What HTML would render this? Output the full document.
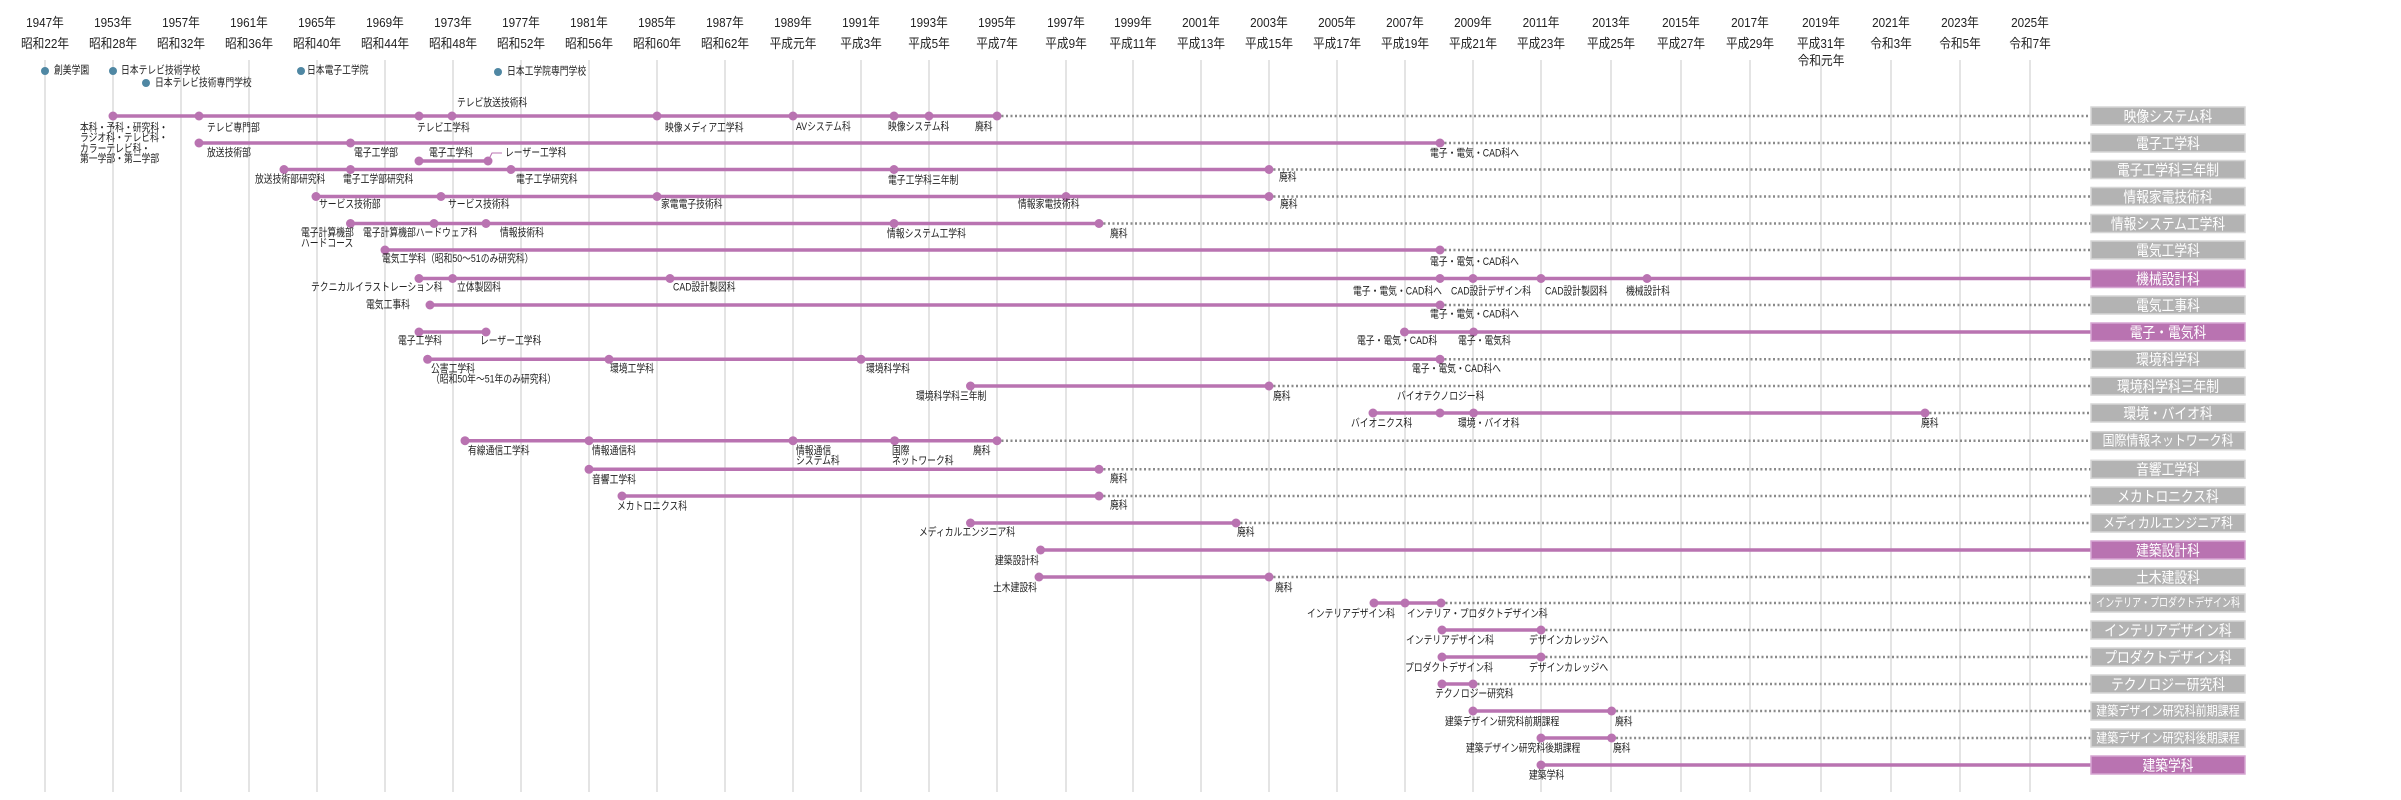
<!DOCTYPE html>
<html><head><meta charset="utf-8">
<style>
html,body{margin:0;padding:0;background:#fff;}
svg{display:block;font-family:"Liberation Sans","Noto Sans CJK JP",sans-serif;}
.g{stroke:#dcdcdc;stroke-width:1.5}
.l{stroke:#b973b1;stroke-width:3.5}
.d{stroke:#8a8a8a;stroke-width:2.5;stroke-dasharray:2 2.5}
circle.p{fill:#b973b1}
circle.s{fill:#4f87a3}
text.t{font-size:11px;fill:#222;dominant-baseline:central;transform-box:fill-box;transform-origin:0 50%;transform:scaleX(.8)}
text.y{font-size:13px;fill:#222;text-anchor:middle;dominant-baseline:central;transform-box:fill-box;transform-origin:50% 50%;transform:scaleX(.9)}
text.b{font-size:15px;fill:#fff;text-anchor:middle;dominant-baseline:central;transform-box:fill-box;transform-origin:50% 50%;transform:scaleX(.85)}
rect.gb{fill:#b3b3b3;stroke:#d6d6d6;stroke-width:1.5}
rect.pb{fill:#b973b1;stroke:#d6a6d2;stroke-width:1.5}
</style></head><body>
<svg width="2401" height="800" viewBox="0 0 2401 800">
<g class="g">
<line x1="45" y1="60" x2="45" y2="792"/><line x1="113" y1="60" x2="113" y2="792"/><line x1="181" y1="60" x2="181" y2="792"/><line x1="249" y1="60" x2="249" y2="792"/><line x1="317" y1="60" x2="317" y2="792"/><line x1="385" y1="60" x2="385" y2="792"/><line x1="453" y1="60" x2="453" y2="792"/><line x1="521" y1="60" x2="521" y2="792"/><line x1="589" y1="60" x2="589" y2="792"/><line x1="657" y1="60" x2="657" y2="792"/><line x1="725" y1="60" x2="725" y2="792"/><line x1="793" y1="60" x2="793" y2="792"/><line x1="861" y1="60" x2="861" y2="792"/><line x1="929" y1="60" x2="929" y2="792"/><line x1="997" y1="60" x2="997" y2="792"/><line x1="1066" y1="60" x2="1066" y2="792"/><line x1="1133" y1="60" x2="1133" y2="792"/><line x1="1201" y1="60" x2="1201" y2="792"/><line x1="1269" y1="60" x2="1269" y2="792"/><line x1="1337" y1="60" x2="1337" y2="792"/><line x1="1405" y1="60" x2="1405" y2="792"/><line x1="1473" y1="60" x2="1473" y2="792"/><line x1="1541" y1="60" x2="1541" y2="792"/><line x1="1611" y1="60" x2="1611" y2="792"/><line x1="1681" y1="60" x2="1681" y2="792"/><line x1="1750" y1="60" x2="1750" y2="792"/><line x1="1821" y1="60" x2="1821" y2="792"/><line x1="1891" y1="60" x2="1891" y2="792"/><line x1="1960" y1="60" x2="1960" y2="792"/><line x1="2030" y1="60" x2="2030" y2="792"/>
</g>
<g>
<text class="y" x="45" y="23">1947年</text><text class="y" x="45" y="44">昭和22年</text>
<text class="y" x="113" y="23">1953年</text><text class="y" x="113" y="44">昭和28年</text>
<text class="y" x="181" y="23">1957年</text><text class="y" x="181" y="44">昭和32年</text>
<text class="y" x="249" y="23">1961年</text><text class="y" x="249" y="44">昭和36年</text>
<text class="y" x="317" y="23">1965年</text><text class="y" x="317" y="44">昭和40年</text>
<text class="y" x="385" y="23">1969年</text><text class="y" x="385" y="44">昭和44年</text>
<text class="y" x="453" y="23">1973年</text><text class="y" x="453" y="44">昭和48年</text>
<text class="y" x="521" y="23">1977年</text><text class="y" x="521" y="44">昭和52年</text>
<text class="y" x="589" y="23">1981年</text><text class="y" x="589" y="44">昭和56年</text>
<text class="y" x="657" y="23">1985年</text><text class="y" x="657" y="44">昭和60年</text>
<text class="y" x="725" y="23">1987年</text><text class="y" x="725" y="44">昭和62年</text>
<text class="y" x="793" y="23">1989年</text><text class="y" x="793" y="44">平成元年</text>
<text class="y" x="861" y="23">1991年</text><text class="y" x="861" y="44">平成3年</text>
<text class="y" x="929" y="23">1993年</text><text class="y" x="929" y="44">平成5年</text>
<text class="y" x="997" y="23">1995年</text><text class="y" x="997" y="44">平成7年</text>
<text class="y" x="1066" y="23">1997年</text><text class="y" x="1066" y="44">平成9年</text>
<text class="y" x="1133" y="23">1999年</text><text class="y" x="1133" y="44">平成11年</text>
<text class="y" x="1201" y="23">2001年</text><text class="y" x="1201" y="44">平成13年</text>
<text class="y" x="1269" y="23">2003年</text><text class="y" x="1269" y="44">平成15年</text>
<text class="y" x="1337" y="23">2005年</text><text class="y" x="1337" y="44">平成17年</text>
<text class="y" x="1405" y="23">2007年</text><text class="y" x="1405" y="44">平成19年</text>
<text class="y" x="1473" y="23">2009年</text><text class="y" x="1473" y="44">平成21年</text>
<text class="y" x="1541" y="23">2011年</text><text class="y" x="1541" y="44">平成23年</text>
<text class="y" x="1611" y="23">2013年</text><text class="y" x="1611" y="44">平成25年</text>
<text class="y" x="1681" y="23">2015年</text><text class="y" x="1681" y="44">平成27年</text>
<text class="y" x="1750" y="23">2017年</text><text class="y" x="1750" y="44">平成29年</text>
<text class="y" x="1821" y="23">2019年</text><text class="y" x="1821" y="44">平成31年</text><text class="y" x="1821" y="61">令和元年</text>
<text class="y" x="1891" y="23">2021年</text><text class="y" x="1891" y="44">令和3年</text>
<text class="y" x="1960" y="23">2023年</text><text class="y" x="1960" y="44">令和5年</text>
<text class="y" x="2030" y="23">2025年</text><text class="y" x="2030" y="44">令和7年</text>
</g>
<circle class="s" cx="45" cy="71" r="4"/><text class="t" x="54" y="71">創美学園</text>
<circle class="s" cx="113" cy="71" r="4"/><text class="t" x="121" y="71">日本テレビ技術学校</text>
<circle class="s" cx="146" cy="83" r="4"/><text class="t" x="155" y="83">日本テレビ技術専門学校</text>
<circle class="s" cx="301" cy="71" r="4"/><text class="t" x="307" y="71">日本電子工学院</text>
<circle class="s" cx="498" cy="72" r="4"/><text class="t" x="507" y="72">日本工学院専門学校</text>

<g class="d">
<line x1="997" y1="116" x2="2091" y2="116"/>
<line x1="1440" y1="143" x2="2091" y2="143"/>
<line x1="1269" y1="169.5" x2="2091" y2="169.5"/>
<line x1="1269" y1="196.5" x2="2091" y2="196.5"/>
<line x1="1099" y1="223.5" x2="2091" y2="223.5"/>
<line x1="1440" y1="250" x2="2091" y2="250"/>
<line x1="1440" y1="305" x2="2091" y2="305"/>
<line x1="1440" y1="359.3" x2="2091" y2="359.3"/>
<line x1="1269" y1="386" x2="2091" y2="386"/>
<line x1="1925" y1="413" x2="2091" y2="413"/>
<line x1="997" y1="440.7" x2="2091" y2="440.7"/>
<line x1="1099" y1="469.3" x2="2091" y2="469.3"/>
<line x1="1099" y1="496" x2="2091" y2="496"/>
<line x1="1236" y1="523" x2="2091" y2="523"/>
<line x1="1269" y1="577" x2="2091" y2="577"/>
<line x1="1441" y1="603" x2="2091" y2="603"/>
<line x1="1541" y1="630" x2="2091" y2="630"/>
<line x1="1541" y1="657" x2="2091" y2="657"/>
<line x1="1473" y1="684" x2="2091" y2="684"/>
<line x1="1611.6" y1="711" x2="2091" y2="711"/>
<line x1="1611.6" y1="738" x2="2091" y2="738"/>
</g>
<g class="l">
<line x1="113" y1="116" x2="997" y2="116"/>
<line x1="199" y1="143" x2="1440" y2="143"/>
<line x1="419" y1="161" x2="488" y2="161"/>
<line x1="284" y1="169.5" x2="1269" y2="169.5"/>
<line x1="316" y1="196.5" x2="1269" y2="196.5"/>
<line x1="350.5" y1="223.5" x2="1099" y2="223.5"/>
<line x1="385" y1="250" x2="1440" y2="250"/>
<line x1="419" y1="278.5" x2="2091" y2="278.5"/>
<line x1="430" y1="305" x2="1440" y2="305"/>
<line x1="419" y1="332" x2="486" y2="332"/>
<line x1="1404.5" y1="332" x2="2091" y2="332"/>
<line x1="427.6" y1="359.3" x2="1440" y2="359.3"/>
<line x1="970.5" y1="386" x2="1269" y2="386"/>
<line x1="1373" y1="413" x2="1925" y2="413"/>
<line x1="465" y1="440.7" x2="997" y2="440.7"/>
<line x1="589" y1="469.3" x2="1099" y2="469.3"/>
<line x1="622" y1="496" x2="1099" y2="496"/>
<line x1="970.5" y1="523" x2="1236" y2="523"/>
<line x1="1040.6" y1="550" x2="2091" y2="550"/>
<line x1="1039" y1="577" x2="1269" y2="577"/>
<line x1="1374" y1="603" x2="1441" y2="603"/>
<line x1="1442" y1="630" x2="1541" y2="630"/>
<line x1="1442" y1="657" x2="1541" y2="657"/>
<line x1="1442" y1="684" x2="1473" y2="684"/>
<line x1="1473" y1="711" x2="1611.6" y2="711"/>
<line x1="1541" y1="738" x2="1611.6" y2="738"/>
<line x1="1541" y1="765" x2="2091" y2="765"/>
</g>
<polyline points="488,161 492,153 502,153" fill="none" stroke="#b973b1" stroke-width="1"/>
<g>
<circle class="p" cx="113" cy="116" r="4.5"/><circle class="p" cx="199" cy="116" r="4.5"/><circle class="p" cx="419" cy="116" r="4.5"/><circle class="p" cx="452" cy="116" r="4.5"/><circle class="p" cx="657" cy="116" r="4.5"/><circle class="p" cx="793" cy="116" r="4.5"/><circle class="p" cx="894" cy="116" r="4.5"/><circle class="p" cx="929" cy="116" r="4.5"/><circle class="p" cx="997" cy="116" r="4.5"/>
<circle class="p" cx="199" cy="143" r="4.5"/><circle class="p" cx="350.5" cy="143" r="4.5"/><circle class="p" cx="1440" cy="143" r="4.5"/>
<circle class="p" cx="419" cy="161" r="4.5"/><circle class="p" cx="488" cy="161" r="4.5"/>
<circle class="p" cx="284" cy="169.5" r="4.5"/><circle class="p" cx="350.5" cy="169.5" r="4.5"/><circle class="p" cx="511" cy="169.5" r="4.5"/><circle class="p" cx="894" cy="169.5" r="4.5"/><circle class="p" cx="1269" cy="169.5" r="4.5"/>
<circle class="p" cx="316" cy="196.5" r="4.5"/><circle class="p" cx="441" cy="196.5" r="4.5"/><circle class="p" cx="657" cy="196.5" r="4.5"/><circle class="p" cx="1066" cy="196.5" r="4.5"/><circle class="p" cx="1269" cy="196.5" r="4.5"/>
<circle class="p" cx="350.5" cy="223.5" r="4.5"/><circle class="p" cx="434" cy="223.5" r="4.5"/><circle class="p" cx="486" cy="223.5" r="4.5"/><circle class="p" cx="894" cy="223.5" r="4.5"/><circle class="p" cx="1099" cy="223.5" r="4.5"/>
<circle class="p" cx="385" cy="250" r="4.5"/><circle class="p" cx="1440" cy="250" r="4.5"/>
<circle class="p" cx="419" cy="278.5" r="4.5"/><circle class="p" cx="452.6" cy="278.5" r="4.5"/><circle class="p" cx="670" cy="278.5" r="4.5"/><circle class="p" cx="1440" cy="278.5" r="4.5"/><circle class="p" cx="1473" cy="278.5" r="4.5"/><circle class="p" cx="1541" cy="278.5" r="4.5"/><circle class="p" cx="1647" cy="278.5" r="4.5"/>
<circle class="p" cx="430" cy="305" r="4.5"/><circle class="p" cx="1440" cy="305" r="4.5"/>
<circle class="p" cx="419" cy="332" r="4.5"/><circle class="p" cx="486" cy="332" r="4.5"/><circle class="p" cx="1404.5" cy="332" r="4.5"/><circle class="p" cx="1473.6" cy="332" r="4.5"/>
<circle class="p" cx="427.6" cy="359.3" r="4.5"/><circle class="p" cx="609" cy="359.3" r="4.5"/><circle class="p" cx="861" cy="359.3" r="4.5"/><circle class="p" cx="1440" cy="359.3" r="4.5"/>
<circle class="p" cx="970.5" cy="386" r="4.5"/><circle class="p" cx="1269" cy="386" r="4.5"/>
<circle class="p" cx="1373" cy="413" r="4.5"/><circle class="p" cx="1440" cy="413" r="4.5"/><circle class="p" cx="1473.6" cy="413" r="4.5"/><circle class="p" cx="1925" cy="413" r="4.5"/>
<circle class="p" cx="465" cy="440.7" r="4.5"/><circle class="p" cx="589" cy="440.7" r="4.5"/><circle class="p" cx="793" cy="440.7" r="4.5"/><circle class="p" cx="894.6" cy="440.7" r="4.5"/><circle class="p" cx="997" cy="440.7" r="4.5"/>
<circle class="p" cx="589" cy="469.3" r="4.5"/><circle class="p" cx="1099" cy="469.3" r="4.5"/>
<circle class="p" cx="622" cy="496" r="4.5"/><circle class="p" cx="1099" cy="496" r="4.5"/>
<circle class="p" cx="970.5" cy="523" r="4.5"/><circle class="p" cx="1236" cy="523" r="4.5"/>
<circle class="p" cx="1040.6" cy="550" r="4.5"/>
<circle class="p" cx="1039" cy="577" r="4.5"/><circle class="p" cx="1269" cy="577" r="4.5"/>
<circle class="p" cx="1374" cy="603" r="4.5"/><circle class="p" cx="1405" cy="603" r="4.5"/><circle class="p" cx="1441" cy="603" r="4.5"/>
<circle class="p" cx="1442" cy="630" r="4.5"/><circle class="p" cx="1541" cy="630" r="4.5"/>
<circle class="p" cx="1442" cy="657" r="4.5"/><circle class="p" cx="1541" cy="657" r="4.5"/>
<circle class="p" cx="1442" cy="684" r="4.5"/><circle class="p" cx="1473" cy="684" r="4.5"/>
<circle class="p" cx="1473" cy="711" r="4.5"/><circle class="p" cx="1611.6" cy="711" r="4.5"/>
<circle class="p" cx="1541" cy="738" r="4.5"/><circle class="p" cx="1611.6" cy="738" r="4.5"/>
<circle class="p" cx="1541" cy="765" r="4.5"/>
</g>
<g>
<text class="t" x="457" y="103">テレビ放送技術科</text>
<text class="t" x="80" y="128">本科・予科・研究科・</text>
<text class="t" x="80" y="138.5">ラジオ科・テレビ科・</text>
<text class="t" x="80" y="149">カラーテレビ科・</text>
<text class="t" x="80" y="159.5">第一学部・第二学部</text>
<text class="t" x="207" y="128">テレビ専門部</text>
<text class="t" x="417" y="128">テレビ工学科</text>
<text class="t" x="665" y="128">映像メディア工学科</text>
<text class="t" x="796" y="127">AVシステム科</text>
<text class="t" x="888" y="127">映像システム科</text>
<text class="t" x="975" y="127">廃科</text>
<text class="t" x="207" y="153">放送技術部</text>
<text class="t" x="354" y="153">電子工学部</text>
<text class="t" x="429" y="153">電子工学科</text>
<text class="t" x="505" y="153">レーザー工学科</text>
<text class="t" x="1430" y="154">電子・電気・CAD科へ</text>
<text class="t" x="255" y="180">放送技術部研究科</text>
<text class="t" x="343" y="180">電子工学部研究科</text>
<text class="t" x="516" y="180">電子工学研究科</text>
<text class="t" x="888" y="181">電子工学科三年制</text>
<text class="t" x="1279" y="178">廃科</text>
<text class="t" x="319" y="205">サービス技術部</text>
<text class="t" x="448" y="205">サービス技術科</text>
<text class="t" x="661" y="205">家電電子技術科</text>
<text class="t" x="1018" y="205">情報家電技術科</text>
<text class="t" x="1280" y="205">廃科</text>
<text class="t" x="301" y="233">電子計算機部</text>
<text class="t" x="301" y="244">ハードコース</text>
<text class="t" x="363" y="233">電子計算機部ハードウェア科</text>
<text class="t" x="500" y="233">情報技術科</text>
<text class="t" x="887" y="234">情報システム工学科</text>
<text class="t" x="1110" y="234">廃科</text>
<text class="t" x="382" y="259">電気工学科（昭和50～51のみ研究科）</text>
<text class="t" x="1430" y="262">電子・電気・CAD科へ</text>
<text class="t" x="311" y="288">テクニカルイラストレーション科</text>
<text class="t" x="457" y="288">立体製図科</text>
<text class="t" x="673" y="288">CAD設計製図科</text>
<text class="t" x="1353" y="292">電子・電気・CAD科へ</text>
<text class="t" x="1451" y="292">CAD設計デザイン科</text>
<text class="t" x="1545" y="292">CAD設計製図科</text>
<text class="t" x="1626" y="292">機械設計科</text>
<text class="t" x="366" y="305">電気工事科</text>
<text class="t" x="1430" y="315">電子・電気・CAD科へ</text>
<text class="t" x="398" y="341">電子工学科</text>
<text class="t" x="480" y="341">レーザー工学科</text>
<text class="t" x="1357" y="341">電子・電気・CAD科</text>
<text class="t" x="1458" y="341">電子・電気科</text>
<text class="t" x="431" y="369">公害工学科</text>
<text class="t" x="431" y="380">（昭和50年～51年のみ研究科）</text>
<text class="t" x="610" y="369">環境工学科</text>
<text class="t" x="866" y="369">環境科学科</text>
<text class="t" x="1412" y="369">電子・電気・CAD科へ</text>
<text class="t" x="916" y="397">環境科学科三年制</text>
<text class="t" x="1273" y="397">廃科</text>
<text class="t" x="1397" y="397">バイオテクノロジー科</text>
<text class="t" x="1351" y="424">バイオニクス科</text>
<text class="t" x="1458" y="424">環境・バイオ科</text>
<text class="t" x="1921" y="424">廃科</text>
<text class="t" x="468" y="451">有線通信工学科</text>
<text class="t" x="592" y="451">情報通信科</text>
<text class="t" x="796" y="451">情報通信</text>
<text class="t" x="796" y="461">システム科</text>
<text class="t" x="892" y="451">国際</text>
<text class="t" x="892" y="461">ネットワーク科</text>
<text class="t" x="973" y="451">廃科</text>
<text class="t" x="592" y="480">音響工学科</text>
<text class="t" x="1110" y="479">廃科</text>
<text class="t" x="617" y="507">メカトロニクス科</text>
<text class="t" x="1110" y="506">廃科</text>
<text class="t" x="919" y="533">メディカルエンジニア科</text>
<text class="t" x="1237" y="533">廃科</text>
<text class="t" x="995" y="561">建築設計科</text>
<text class="t" x="993" y="588">土木建設科</text>
<text class="t" x="1275" y="588">廃科</text>
<text class="t" x="1307" y="614">インテリアデザイン科</text>
<text class="t" x="1407" y="614">インテリア・プロダクトデザイン科</text>
<text class="t" x="1406" y="641">インテリアデザイン科</text>
<text class="t" x="1529" y="641">デザインカレッジへ</text>
<text class="t" x="1405" y="668">プロダクトデザイン科</text>
<text class="t" x="1529" y="668">デザインカレッジへ</text>
<text class="t" x="1435" y="694">テクノロジー研究科</text>
<text class="t" x="1445" y="722">建築デザイン研究科前期課程</text>
<text class="t" x="1615" y="722">廃科</text>
<text class="t" x="1466" y="749">建築デザイン研究科後期課程</text>
<text class="t" x="1613" y="749">廃科</text>
<text class="t" x="1529" y="776">建築学科</text>
</g>
<g>
<rect class="gb" x="2091" y="107" width="154" height="18"/><text class="b" x="2168" y="116">映像システム科</text>
<rect class="gb" x="2091" y="134" width="154" height="18"/><text class="b" x="2168" y="143">電子工学科</text>
<rect class="gb" x="2091" y="160.5" width="154" height="18"/><text class="b" x="2168" y="169.5">電子工学科三年制</text>
<rect class="gb" x="2091" y="187.5" width="154" height="18"/><text class="b" x="2168" y="196.5">情報家電技術科</text>
<rect class="gb" x="2091" y="214.5" width="154" height="18"/><text class="b" x="2168" y="223.5">情報システム工学科</text>
<rect class="gb" x="2091" y="241" width="154" height="18"/><text class="b" x="2168" y="250">電気工学科</text>
<rect class="pb" x="2091" y="269.5" width="154" height="18"/><text class="b" x="2168" y="278.5">機械設計科</text>
<rect class="gb" x="2091" y="296" width="154" height="18"/><text class="b" x="2168" y="305">電気工事科</text>
<rect class="pb" x="2091" y="323" width="154" height="18"/><text class="b" x="2168" y="332">電子・電気科</text>
<rect class="gb" x="2091" y="350.3" width="154" height="18"/><text class="b" x="2168" y="359.3">環境科学科</text>
<rect class="gb" x="2091" y="377" width="154" height="18"/><text class="b" x="2168" y="386">環境科学科三年制</text>
<rect class="gb" x="2091" y="404" width="154" height="18"/><text class="b" x="2168" y="413">環境・バイオ科</text>
<rect class="gb" x="2091" y="431.7" width="154" height="18"/><text class="b" x="2168" y="440.7" style="font-size:14px">国際情報ネットワーク科</text>
<rect class="gb" x="2091" y="460.3" width="154" height="18"/><text class="b" x="2168" y="469.3">音響工学科</text>
<rect class="gb" x="2091" y="487" width="154" height="18"/><text class="b" x="2168" y="496">メカトロニクス科</text>
<rect class="gb" x="2091" y="514" width="154" height="18"/><text class="b" x="2168" y="523" style="font-size:14px">メディカルエンジニア科</text>
<rect class="pb" x="2091" y="541" width="154" height="18"/><text class="b" x="2168" y="550">建築設計科</text>
<rect class="gb" x="2091" y="568" width="154" height="18"/><text class="b" x="2168" y="577">土木建設科</text>
<rect class="gb" x="2091" y="594" width="154" height="18"/><text class="b" x="2168" y="603" style="font-size:12px;transform:scaleX(.75)">インテリア・プロダクトデザイン科</text>
<rect class="gb" x="2091" y="621" width="154" height="18"/><text class="b" x="2168" y="630">インテリアデザイン科</text>
<rect class="gb" x="2091" y="648" width="154" height="18"/><text class="b" x="2168" y="657">プロダクトデザイン科</text>
<rect class="gb" x="2091" y="675" width="154" height="18"/><text class="b" x="2168" y="684">テクノロジー研究科</text>
<rect class="gb" x="2091" y="702" width="154" height="18"/><text class="b" x="2168" y="711" style="font-size:13px">建築デザイン研究科前期課程</text>
<rect class="gb" x="2091" y="729" width="154" height="18"/><text class="b" x="2168" y="738" style="font-size:13px">建築デザイン研究科後期課程</text>
<rect class="pb" x="2091" y="756" width="154" height="18"/><text class="b" x="2168" y="765">建築学科</text>
</g>
</svg>
</body></html>
